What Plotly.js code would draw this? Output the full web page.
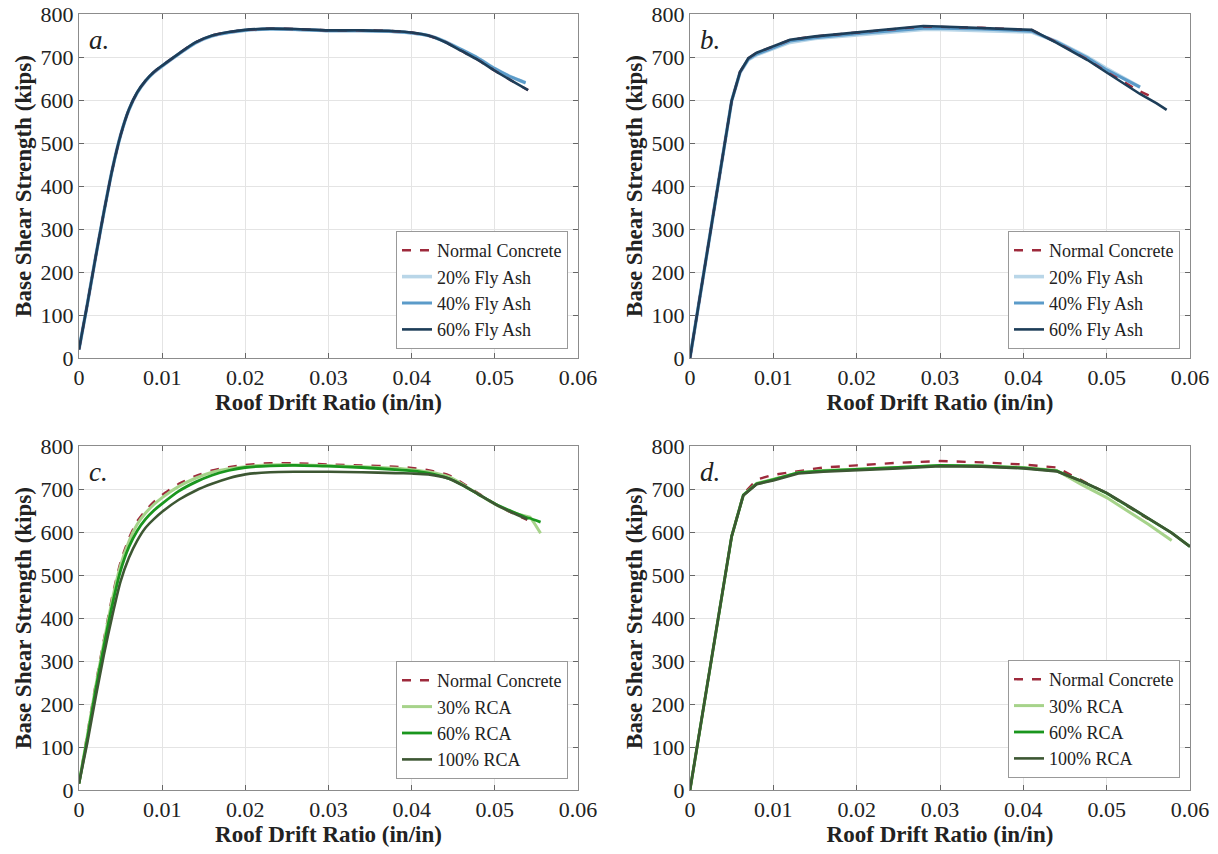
<!DOCTYPE html>
<html><head><meta charset="utf-8">
<script src="https://cdn.plot.ly/plotly-3.0.1.min.js"></script>
<style>body{margin:0;background:#fff}#c{width:1218px;height:854px}</style>
</head><body><div id="c"></div>
<script>
// ---------- Panel a: Fly Ash ----------
const aX = [0,0.001,0.002,0.003,0.004,0.005,0.006,0.007,0.008,0.009,0.010,0.012,0.014,0.016,0.018,0.020,0.023,0.026,0.030,0.034,0.038,0.040,0.042,0.044,0.046,0.048,0.050,0.052,0.0537,0.054];
const aNormal = [20,125,235,340,438,518,578,618,645,665,680,708,734,750,758,763,766,765,762,762,760,757,750,735,714,693,668,645,null,623];
const a20 =     [20,125,235,340,438,518,577,617,644,664,679,707,733,749,757,762,765,764,761,761,759,756,750,736,717,697,673,653,640,null];
const a40 =     [20,125,235,340,438,518,577,617,644,664,679,707,733,749,757,762,765,764,761,761,759,756,750,736,717,697,673,653,640,null];
const a60 =     [20,125,235,340,438,518,578,618,645,665,680,708,734,750,758,763,766,765,762,762,760,757,750,735,714,693,668,645,null,623];

// ---------- Panel b: Fly Ash ----------
const bX = [0,0.002,0.004,0.005,0.006,0.007,0.008,0.010,0.012,0.015,0.020,0.025,0.028,0.030,0.035,0.041,0.044,0.0477,0.050,0.054,0.056,0.0572];
const bNormal = [0,240,480,598,665,697,710,725,740,748,757,765,771,770,768,763,734,694,665,620,602,null];
const b20 =     [0,240,480,598,664,694,705,719,734,743,751,759,764,764,762,758,736,700,673,630,null,null];
const b40 =     [0,240,480,598,664,695,707,721,737,745,754,762,767,767,765,760,735,698,670,630,null,null];
const b60 =     [0,240,480,598,665,697,710,725,740,748,757,765,772,771,768,763,733,693,664,614,592,577];

// ---------- Panel c: RCA ----------
const cX = [0,0.001,0.002,0.003,0.004,0.005,0.006,0.007,0.008,0.009,0.010,0.012,0.014,0.016,0.018,0.020,0.023,0.026,0.030,0.034,0.038,0.040,0.042,0.0445,0.046,0.048,0.050,0.052,0.0539,0.0542,0.0555];
const cNormal = [15,130,245,350,450,530,585,625,650,670,686,712,730,743,751,756,760,760,757,755,752,749,744,732,715,690,666,645,628,null,null];
const c30 =     [15,126,240,344,443,523,578,618,644,664,680,706,725,739,747,752,756,756,754,752,748,745,740,728,712,688,665,647,636,635,597];
const c60 =     [15,120,232,335,430,510,565,603,630,650,666,695,716,732,743,750,754,755,753,750,745,742,737,724,710,688,666,648,633,632,623];
const c100 =    [15,110,215,315,405,485,540,580,610,630,647,675,696,712,725,734,739,740,740,739,737,736,734,724,710,688,665,646,630,null,null];

// ---------- Panel d: RCA ----------
const dX = [0,0.002,0.004,0.005,0.0064,0.008,0.010,0.013,0.016,0.020,0.0225,0.025,0.030,0.035,0.040,0.044,0.047,0.050,0.053,0.055,0.0578,0.060];
const dNormal = [0,236,472,590,688,722,733,742,750,755,758,761,765,762,757,750,720,690,654,630,null,null];
const d30 =     [0,236,472,590,686,713,723,738,743,746,748,750,754,753,750,743,710,680,642,618,580,null];
const d60 =     [0,236,472,590,686,712,722,738,742,745,748,750,755,754,749,742,718,690,655,632,598,566];
const d100 =    [0,236,472,590,685,711,720,736,740,743,746,748,753,752,748,741,718,691,656,632,598,566];

const XTITLE = "Roof Drift Ratio (in/in)";
const YTITLE = "Base Shear Strength (kips)";
const PANEL_LABELS = ["a.", "b.", "c.", "d."];

const FONT = "Liberation Serif";
const C_NORMAL = "#9e2a3c", C20 = "#b9d6e8", C40 = "#5b9bc9", C60 = "#1d3d58";
const C30R = "#a6d38a", C60R = "#1a961e", C100R = "#3d5733";

function tr(x, y, name, color, xa, ya, leg, dash, w, smooth) {
  const line = {color: color, width: w || 2.6, dash: dash || "solid"};
  if (smooth) { line.shape = "spline"; line.smoothing = 0.6; }
  return {x: x, y: y, name: name, type: "scatter", mode: "lines",
    xaxis: xa, yaxis: ya, legend: leg, line: line, connectgaps: true};
}
const data = [
  tr(aX, a20, "20% Fly Ash", C20, "x", "y", "legend", null, 3.6, true),
  tr(aX, a40, "40% Fly Ash", C40, "x", "y", "legend", null, 3, true),
  tr(aX, aNormal, "Normal Concrete", C_NORMAL, "x", "y", "legend", "dash", 2.4, true),
  tr(aX, a60, "60% Fly Ash", C60, "x", "y", "legend", null, 2.6, true),

  tr(bX, b20, "20% Fly Ash", C20, "x2", "y2", "legend2", null, 3.6),
  tr(bX, b40, "40% Fly Ash", C40, "x2", "y2", "legend2", null, 3),
  tr(bX, bNormal, "Normal Concrete", C_NORMAL, "x2", "y2", "legend2", "dash", 2.4),
  tr(bX, b60, "60% Fly Ash", C60, "x2", "y2", "legend2", null, 2.6),

  tr(cX, cNormal, "Normal Concrete", C_NORMAL, "x3", "y3", "legend3", "dash", 2.4, true),
  tr(cX, c30, "30% RCA", C30R, "x3", "y3", "legend3", null, 3, true),
  tr(cX, c60, "60% RCA", C60R, "x3", "y3", "legend3", null, 2.8, true),
  tr(cX, c100, "100% RCA", C100R, "x3", "y3", "legend3", null, 2.6, true),

  tr(dX, dNormal, "Normal Concrete", C_NORMAL, "x4", "y4", "legend4", "dash", 2.4),
  tr(dX, d30, "30% RCA", C30R, "x4", "y4", "legend4", null, 3),
  tr(dX, d60, "60% RCA", C60R, "x4", "y4", "legend4", null, 2.8),
  tr(dX, d100, "100% RCA", C100R, "x4", "y4", "legend4", null, 2.6)
];
const order = {"Normal Concrete":1,"20% Fly Ash":2,"40% Fly Ash":3,"60% Fly Ash":4,"30% RCA":2,"60% RCA":3,"100% RCA":4};
data.forEach(t => t.legendrank = order[t.name]);

const W = 1218, H = 854;
const xdomL = [79/W, 578/W], xdomR = [690/W, 1190/W];
const ydomT = [(H-358)/H, (H-14)/H], ydomB = [(H-790)/H, (H-446)/H];

function xa(dom, anchor) {
  return {domain: dom, anchor: anchor, range: [0, 0.06], dtick: 0.01,
    showgrid: true, gridcolor: "#e4e4e4", gridwidth: 1, zeroline: false,
    showline: true, linecolor: "#8c8c8c", linewidth: 1, mirror: "ticks",
    ticks: "inside", ticklen: 5, tickcolor: "#666", ticklabeloverflow: "allow",
    tickfont: {family: FONT, size: 22, color: "#222"},
    title: {text: "<b>" + XTITLE + "</b>", font: {family: FONT, size: 23, color: "#222"}, standoff: 0}};
}
function ya(dom, anchor) {
  return {domain: dom, anchor: anchor, range: [0, 800], dtick: 100,
    showgrid: true, gridcolor: "#e4e4e4", gridwidth: 1, zeroline: false,
    showline: true, linecolor: "#8c8c8c", linewidth: 1, mirror: "ticks",
    ticks: "inside", ticklen: 5, tickcolor: "#666",
    tickfont: {family: FONT, size: 22, color: "#222"},
    title: {text: "<b>" + YTITLE + "</b>", font: {family: FONT, size: 23, color: "#222"}, standoff: 2}};
}
function leg(xr, yb) {
  return {x: xr, y: yb, xanchor: "right", yanchor: "bottom", xref: "paper", yref: "paper",
    bgcolor: "#fff", bordercolor: "#999", borderwidth: 1,
    font: {family: FONT, size: 18, color: "#222"}, tracegroupgap: 0,
    itemwidth: 30, traceorder: "normal"};
}
const layout = {
  width: W, height: H, margin: {l: 0, r: 0, t: 0, b: 0},
  paper_bgcolor: "#fff", plot_bgcolor: "#fff", showlegend: true,
  xaxis: xa(xdomL, "y"), yaxis: ya(ydomT, "x"),
  xaxis2: xa(xdomR, "y2"), yaxis2: ya(ydomT, "x2"),
  xaxis3: xa(xdomL, "y3"), yaxis3: ya(ydomB, "x3"),
  xaxis4: xa(xdomR, "y4"), yaxis4: ya(ydomB, "x4"),
  legend: leg(568/W, (H-349)/H),
  legend2: leg(1180/W, (H-349)/H),
  legend3: leg(568/W, (H-779)/H),
  legend4: leg(1180/W, (H-778)/H),
  annotations: ["x","x2","x3","x4"].map((ax, i) => ({
    text: "<i>" + PANEL_LABELS[i] + "</i>", x: 0.001, y: 740,
    xref: ax, yref: ax.replace("x", "y"), xanchor: "left", showarrow: false,
    font: {family: FONT, size: 27, color: "#222"}}))
};
Plotly.newPlot("c", data, layout, {displayModeBar: false, staticPlot: true});
</script></body></html>
